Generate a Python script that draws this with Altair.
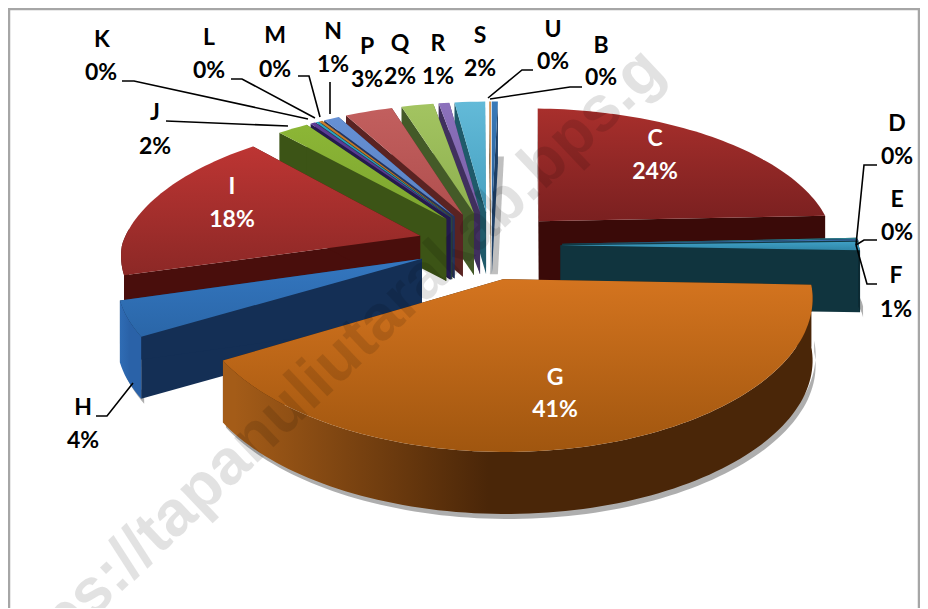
import math
import altair as alt
import pandas as pd

# ---- values ----
categories = ["B", "C", "D", "E", "F", "G", "H", "I", "J", "K", "L", "M", "N", "P", "Q", "R", "S", "U"]
shares = [0.4, 24, 0.15, 0.15, 1, 41, 4, 18, 2, 0.3, 0.2, 0.2, 1, 3.1, 2.1, 0.7, 2, 0.1]
label_pct = ["0%", "24%", "0%", "0%", "1%", "41%", "4%", "18%", "2%", "0%", "0%", "0%", "1%", "3%", "2%", "1%", "2%", "0%"]

# ---- styles: top start, top end, side wall, rim start, rim end ----
styles = {
    "B": ("#3a7ab8", "#2a5f98", "#1d3f66", "#2a5f98", "#2a5f98"),
    "C": ("#a82f2c", "#7a2020", "#3a0a08", "#5a1210", "#3a0a08"),
    "D": ("#2a7f8f", "#2a7f8f", "#123a44", "#123a44", "#123a44"),
    "E": ("#3a6fb0", "#3a6fb0", "#123a44", "#123a44", "#123a44"),
    "F": ("#3f9fc4", "#2f86a8", "#10343e", "#0f3a46", "#0c2a33"),
    "G": ("#d4741f", "#a0560f", "#3d2107", "#a45c18", "#4a2608"),
    "H": ("#3477c0", "#2a66a8", "#142f55", "#2f6cb4", "#2a62a8"),
    "I": ("#bd3533", "#8c2826", "#490e0c", "#490e0c", "#490e0c"),
    "J": ("#8cb636", "#7da52f", "#3c5416", "#3c5416", "#3c5416"),
    "K": ("#5d3d96", "#54368a", "#241a4e", "#241a4e", "#241a4e"),
    "L": ("#2ba4c4", "#2a95b2", "#1a4a5a", "#1a4a5a", "#1a4a5a"),
    "M": ("#c87d2e", "#b06c26", "#4a3a1a", "#4a3a1a", "#4a3a1a"),
    "N": ("#6690d4", "#5a82c4", "#22335f", "#22335f", "#22335f"),
    "P": ("#c25f5e", "#b04f4e", "#5a2322", "#5a2322", "#5a2322"),
    "Q": ("#a3c461", "#8eb04f", "#445a28", "#445a28", "#445a28"),
    "R": ("#8c71bc", "#7a61a8", "#40305e", "#40305e", "#40305e"),
    "S": ("#63bad8", "#45a0c0", "#1f5a6a", "#1f5a6a", "#1f5a6a"),
    "U": ("#d08030", "#d08030", "#6a4a20", "#6a4a20", "#6a4a20"),
}
nudge_x = {"G": -7, "F": -5, "D": -3, "E": -3, "C": -3}

# ---- label layout ----
name_pos = {"K": (102, 40), "L": (209, 38), "M": (275, 36), "N": (333, 32), "P": (367, 47), "Q": (400, 44),
            "R": (438, 44), "S": (480, 36), "U": (553, 30), "B": (601, 46), "D": (897, 124), "E": (897, 200),
            "F": (896, 276), "C": (655, 139), "G": (555, 378), "H": (83, 408), "I": (232, 187), "J": (155, 113)}
pct_pos = {"K": (101, 73), "L": (209, 71), "M": (275, 70), "N": (333, 65), "P": (367, 80), "Q": (400, 77),
           "R": (438, 77), "S": (480, 69), "U": (553, 62), "B": (601, 78), "D": (897, 157), "E": (897, 233),
           "F": (896, 310), "C": (655, 172), "G": (555, 410), "H": (83, 441), "I": (232, 220), "J": (155, 147)}
inside = ["C", "G", "I"]
leaders = [
    [(122, 81), (134, 81), (308, 119)], [(231, 79), (242, 79), (315, 118)], [(298, 76), (309, 76), (320, 117)],
    [(330, 82), (330, 114)], [(166, 121), (288, 126)], [(533, 70), (522, 70), (488, 98)],
    [(582, 87), (570, 87), (490, 99)], [(877, 165), (864, 165), (856, 245)], [(877, 240), (864, 240), (856, 245)],
    [(877, 284), (867, 284), (856, 245)], [(96, 416), (107, 416), (133, 383)],
]
frame = [(9, 609), (9, 9), (919, 9), (919, 609)]
watermark = "https://tapanuliutarakab.bps.g"

# ---- pie projection constants ----
CX, CY, RX, RY = 491, 245, 298, 136
EXPLODE, DEPTH = 0.25, 62
XSCALE = alt.Scale(domain=[8, 920], nice=False, zero=False)
YSCALE = alt.Scale(domain=[608, 8], nice=False, zero=False)


def project(px, py, drop=0, shift=0):
    wx = 1 + (0.17 if py > 0 else 0.12) * py
    wy = 1 + 0.148 * py
    return (CX + RX * px / wx + shift, CY - RY * py / wy + drop)


def polygon(points, fill, opacity=1.0):
    df = pd.DataFrame({"x": [p[0] for p in points], "y": [p[1] for p in points], "i": range(len(points))})
    return alt.Chart(df).mark_line(fill=fill, strokeWidth=0, opacity=opacity, clip=True).encode(
        x=alt.X("x:Q", scale=XSCALE, axis=None), y=alt.Y("y:Q", scale=YSCALE, axis=None), order="i:Q")


def polyline(points, color, width):
    df = pd.DataFrame({"x": [p[0] for p in points], "y": [p[1] for p in points], "i": range(len(points))})
    return alt.Chart(df).mark_line(color=color, strokeWidth=width).encode(
        x=alt.X("x:Q", scale=XSCALE, axis=None), y=alt.Y("y:Q", scale=YSCALE, axis=None), order="i:Q")


def vgrad(a, b):
    return alt.Gradient(gradient="linear", x1=0, x2=0, y1=0, y2=1,
                        stops=[alt.GradientStop(color=a, offset=0), alt.GradientStop(color=b, offset=1)])


def hgrad(a, b):
    return alt.Gradient(gradient="linear", x1=0, x2=1, y1=0, y2=0,
                        stops=[alt.GradientStop(color=a, offset=0.02), alt.GradientStop(color=b, offset=0.45)])


total = sum(shares)
slices = []
acc = 0.0
for name, share in zip(categories, shares):
    t0 = acc / total * 2 * math.pi
    acc += share
    t1 = acc / total * 2 * math.pi
    slices.append((name, t0, t1, (t0 + t1) / 2))

# far slices are painted first
order = sorted(slices, key=lambda s: -math.cos(s[3]) * 1.0 + (0.3 if s[0] == "G" else 0))
layers = []
shadow_names = {"G", "H", "F"}
for name, t0, t1, mid in order:
    sh = nudge_x.get(name, 0)
    ax, ay = EXPLODE * math.sin(mid), EXPLODE * math.cos(mid)
    steps = max(2, int((t1 - t0) / math.radians(1.5)))
    ts = [t0 + (t1 - t0) * k / steps for k in range(steps + 1)]
    rim = [(ax + math.sin(t), ay + math.cos(t)) for t in ts]
    top_col, end_col, wall_col, rim_a, rim_b = styles[name]
    near = [p for p, t in zip(rim, ts) if math.cos(t) < 0.06]

    apex_top, apex_low = project(ax, ay, 0, sh), project(ax, ay, DEPTH, sh)

    if name == "B":
        # soft grey shadow that the thin far slice throws on the page
        edge = project(*rim[-1], 55, sh)
        layers.append(polygon([(edge[0] - 2, edge[1]), (edge[0] + 6, edge[1]),
                               (apex_low[0] + 6, apex_low[1]), (apex_low[0] - 2, apex_low[1])], "#b4b4b4", 0.85))
    if name in shadow_names and near:
        up = [project(*p, DEPTH - 6, sh) for p in near]
        low = [project(*p, DEPTH + 5, sh) for p in near]
        shifted = [(x + 3, y) for x, y in up + low[::-1]]
        layers.append(polygon(shifted, "#9a9a9a", 0.8))

    for edge in (rim[0], rim[-1]):
        layers.append(polygon([apex_top, project(*edge, 0, sh), project(*edge, DEPTH, sh), apex_low], wall_col))
    if near:
        up = [project(*p, 0, sh) for p in near]
        low = [project(*p, DEPTH, sh) for p in near]
        layers.append(polygon(up + low[::-1], hgrad(rim_a, rim_b)))
    layers.append(polygon([apex_top] + [project(*p, 0, sh) for p in rim], vgrad(top_col, end_col)))

for line in leaders:
    layers.append(polyline(line, "#000000", 1.6))

layers.append(polyline(frame, "#a6a6a6", 2.5))

labels = []
for name, pct in zip(categories, label_pct):
    color = "#ffffff" if name in inside else "#000000"
    labels.append({"x": name_pos[name][0], "y": name_pos[name][1], "t": name, "c": color})
    labels.append({"x": pct_pos[name][0], "y": pct_pos[name][1], "t": pct, "c": color})
layers.append(alt.Chart(pd.DataFrame(labels)).mark_text(font="Lato", fontWeight="bold", fontSize=23).encode(
    x=alt.X("x:Q", scale=XSCALE, axis=None), y=alt.Y("y:Q", scale=YSCALE, axis=None),
    text="t:N", color=alt.Color("c:N", scale=None)))

layers.append(alt.Chart(pd.DataFrame({"x": [654], "y": [60], "t": [watermark]})).mark_text(
    font="Liberation Sans", fontWeight="bold", fontSize=64, angle=316.5, align="right", baseline="middle",
    color="#000000", opacity=0.11).encode(
    x=alt.X("x:Q", scale=XSCALE, axis=None), y=alt.Y("y:Q", scale=YSCALE, axis=None), text="t:N"))

chart = alt.layer(*layers).properties(width=912, height=600, padding=0, background="#ffffff",
                                      autosize=alt.AutoSizeParams(type="none")).configure_view(stroke=None)
chart.save("out.html", embed_options={"renderer": "svg", "actions": False})
